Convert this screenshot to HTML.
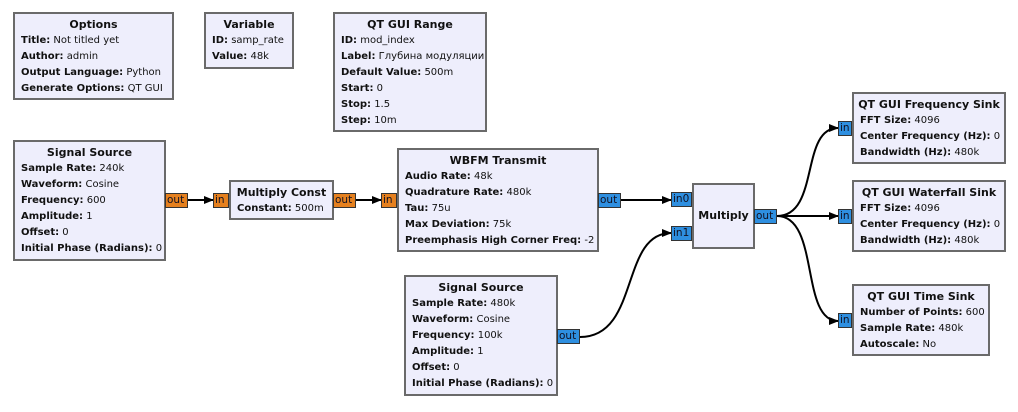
<!DOCTYPE html>
<html><head><meta charset="utf-8"><style>
body{margin:0;width:1018px;height:412px;background:#fff;position:relative;overflow:hidden;font-family:"DejaVu Sans","Liberation Sans",sans-serif;color:#111}
.b{position:absolute;background:#eeeefc;border:2px solid #6a6a6a;box-sizing:border-box;padding:3px 0 0 6px;font-size:10px;line-height:16px;white-space:nowrap}
.b .t{font-weight:bold;font-size:11px;text-align:center;margin-left:-6px}
.b b{font-weight:bold}
.p{position:absolute;box-sizing:border-box;font-size:10.5px;line-height:13px;padding-left:1px;border:1px solid #333;color:#112}
.o{background:#e5801e}
.u{background:#2e8fe0}
svg{position:absolute;left:0;top:0}
</style></head><body>
<svg width="1018" height="412">
<defs><marker id="a" markerWidth="10" markerHeight="8" refX="9" refY="4" orient="auto" markerUnits="userSpaceOnUse"><path d="M0,0 L10,4 L0,8 z" fill="#000"/></marker></defs>
<g stroke="#000" stroke-width="2" fill="none" marker-end="url(#a)">
<path d="M188,200 L213,200"/>
<path d="M356,200 L381,200"/>
<path d="M621,200 L671,200"/>
<path d="M580,337 C640,337 620,233 671,233"/>
<path d="M777,216 C820,216 800,128 838,128"/>
<path d="M777,216 L838,216"/>
<path d="M777,216 C820,216 800,321 838,321"/>
</g></svg>

<div class="b" style="left:13px;top:12px;width:161px;height:88px"><div class="t">Options</div><b>Title:</b> Not titled yet<br><b>Author:</b> admin<br><b>Output Language:</b> Python<br><b>Generate Options:</b> QT GUI</div>
<div class="b" style="left:204px;top:12px;width:90px;height:57px"><div class="t">Variable</div><b>ID:</b> samp_rate<br><b>Value:</b> 48k</div>
<div class="b" style="left:333px;top:12px;width:154px;height:120px"><div class="t">QT GUI Range</div><b>ID:</b> mod_index<br><b>Label:</b> Глубина модуляции<br><b>Default Value:</b> 500m<br><b>Start:</b> 0<br><b>Stop:</b> 1.5<br><b>Step:</b> 10m</div>
<div class="b" style="left:13px;top:140px;width:153px;height:121px"><div class="t">Signal Source</div><b>Sample Rate:</b> 240k<br><b>Waveform:</b> Cosine<br><b>Frequency:</b> 600<br><b>Amplitude:</b> 1<br><b>Offset:</b> 0<br><b>Initial Phase (Radians):</b> 0</div>
<div class="b" style="left:229px;top:180px;width:105px;height:40px"><div class="t">Multiply Const</div><b>Constant:</b> 500m</div>
<div class="b" style="left:397px;top:148px;width:202px;height:104px"><div class="t">WBFM Transmit</div><b>Audio Rate:</b> 48k<br><b>Quadrature Rate:</b> 480k<br><b>Tau:</b> 75u<br><b>Max Deviation:</b> 75k<br><b>Preemphasis High Corner Freq:</b> -2</div>
<div class="b" style="left:404px;top:275px;width:154px;height:121px"><div class="t">Signal Source</div><b>Sample Rate:</b> 480k<br><b>Waveform:</b> Cosine<br><b>Frequency:</b> 100k<br><b>Amplitude:</b> 1<br><b>Offset:</b> 0<br><b>Initial Phase (Radians):</b> 0</div>
<div class="b" style="left:692px;top:183px;width:63px;height:66px;padding:0"><div class="t" style="margin:0;line-height:62px">Multiply</div></div>
<div class="b" style="left:852px;top:92px;width:154px;height:72px"><div class="t">QT GUI Frequency Sink</div><b>FFT Size:</b> 4096<br><b>Center Frequency (Hz):</b> 0<br><b>Bandwidth (Hz):</b> 480k</div>
<div class="b" style="left:852px;top:180px;width:154px;height:72px"><div class="t">QT GUI Waterfall Sink</div><b>FFT Size:</b> 4096<br><b>Center Frequency (Hz):</b> 0<br><b>Bandwidth (Hz):</b> 480k</div>
<div class="b" style="left:852px;top:284px;width:138px;height:72px"><div class="t">QT GUI Time Sink</div><b>Number of Points:</b> 600<br><b>Sample Rate:</b> 480k<br><b>Autoscale:</b> No</div>

<div class="p o" style="left:165px;top:193px;width:23px;height:15px">out</div>
<div class="p o" style="left:213px;top:193px;width:16px;height:15px">in</div>
<div class="p o" style="left:333px;top:193px;width:23px;height:15px">out</div>
<div class="p o" style="left:381px;top:193px;width:16px;height:15px">in</div>
<div class="p u" style="left:598px;top:193px;width:23px;height:15px">out</div>
<div class="p u" style="left:557px;top:329px;width:23px;height:15px">out</div>
<div class="p u" style="left:671px;top:192px;width:21px;height:15px">in0</div>
<div class="p u" style="left:671px;top:226px;width:21px;height:15px">in1</div>
<div class="p u" style="left:754px;top:209px;width:23px;height:15px">out</div>
<div class="p u" style="left:838px;top:121px;width:14px;height:15px">in</div>
<div class="p u" style="left:838px;top:209px;width:14px;height:15px">in</div>
<div class="p u" style="left:838px;top:313px;width:14px;height:15px">in</div>
</body></html>
